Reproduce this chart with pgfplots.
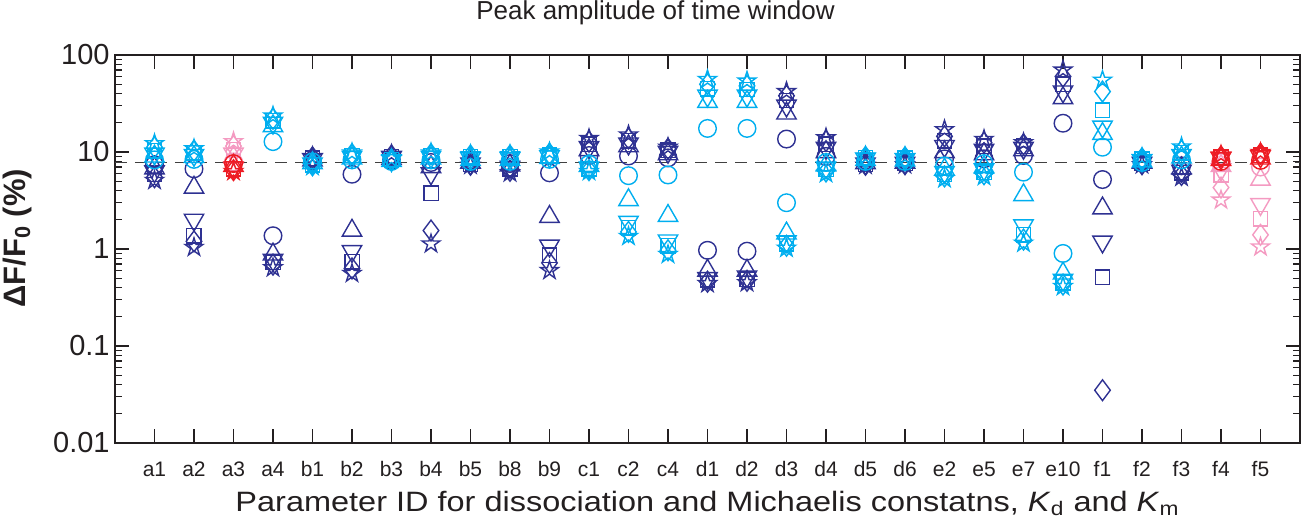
\documentclass[border=0pt]{standalone}
\usepackage{fontspec}
\setmainfont{Liberation Sans}
\newfontfamily\widefont[FakeStretch=1.16]{Liberation Sans}
\usepackage{pgfplots}
\usepackage{pgfplotstable}
\pgfplotsset{compat=1.18}
\definecolor{dkb}{RGB}{46,49,146}
\definecolor{ltb}{RGB}{0,174,239}
\definecolor{rdd}{RGB}{237,28,36}
\definecolor{pnk}{RGB}{244,154,193}
\definecolor{txt}{RGB}{35,31,32}

\pgfdeclareplotmark{pentagram}{%
  \pgfpathmoveto{\pgfpointpolar{90}{\pgfplotmarksize}}%
  \pgfpathlineto{\pgfpointpolar{126}{0.382\pgfplotmarksize}}%
  \pgfpathlineto{\pgfpointpolar{162}{\pgfplotmarksize}}%
  \pgfpathlineto{\pgfpointpolar{198}{0.382\pgfplotmarksize}}%
  \pgfpathlineto{\pgfpointpolar{234}{\pgfplotmarksize}}%
  \pgfpathlineto{\pgfpointpolar{270}{0.382\pgfplotmarksize}}%
  \pgfpathlineto{\pgfpointpolar{306}{\pgfplotmarksize}}%
  \pgfpathlineto{\pgfpointpolar{342}{0.382\pgfplotmarksize}}%
  \pgfpathlineto{\pgfpointpolar{18}{\pgfplotmarksize}}%
  \pgfpathlineto{\pgfpointpolar{54}{0.382\pgfplotmarksize}}%
  \pgfpathclose
  \pgfusepathqstroke
}

% columns: x, circle, triangle, triangle down, square, diamond, pentagram
\pgfplotstableread{
x  c     t     v     s     d     p
0  7.4   6.8   6.3   5.9   5.5   5.1
1  6.7   4.3   2.0   1.37  1.2   1.04
3  1.37  0.88  0.77  0.73  0.69  0.64
4  8.0   8.2   8.4   8.6   8.8   9.0
5  5.9   1.55  0.95  0.74  0.63  0.56
6  8.2   8.5   8.8   9.0   9.2   9.5
7  7.8   7.0   6.0   3.75  1.55  1.13
8  7.9   7.8   7.6   7.5   7.4   7.3
9  7.6   7.3   7.0   6.7   6.4   6.1
10 6.1   2.15  1.08  0.86  0.72  0.6
11 9.2   10.5  11.2  12.0  12.8  13.8
12 9.1   11.5  12.2  13.0  13.8  15.0
13 8.7   9.5   10.0  10.4  10.8  11.2
14 0.97  0.6   0.5   0.48  0.46  0.44
15 0.95  0.6   0.52  0.49  0.47  0.45
16 13.6  25    30    34    38    42
17 9.0   10    11    12    13    14
18 7.9   7.7   7.6   7.5   7.4   7.3
19 7.9   7.8   7.7   7.6   7.5   7.4
20 8.5   10    11.5  13    14.5  17
21 8.5   9.5   10.5  11.5  12.5  13.5
22 9.2   10.5  11    11.5  12    12.5
23 19.8  36    42    50    60    70
24 5.2   2.63  1.19  0.51  0.035 nan
25 7.9   7.8   7.7   7.6   7.5   7.4
26 7.2   6.8   6.4   6.1   5.8   5.5
}\tabD

\pgfplotstableread{
x  c     t     v     s     d     p
0  8.3   9.0   9.6   10.3  11.2  12.2
1  8.4   8.9   9.3   9.8   10.3  10.8
3  12.8  18.5  20    21    22    23.5
4  7.9   7.7   7.6   7.4   7.3   7.1
5  8.3   8.6   8.9   9.2   9.5   9.8
6  8.0   8.1   8.2   8.3   8.4   8.5
7  8.3   8.6   8.9   9.2   9.5   9.8
8  8.0   8.3   8.6   8.9   9.2   9.4
9  8.0   8.3   8.6   8.9   9.2   9.4
10 8.4   8.7   9.0   9.3   9.6   10.0
11 7.5   7.2   6.9   6.7   6.5   6.3
12 5.7   3.2   1.9   1.65  1.5   1.35
13 5.8   2.2   1.22  1.08  0.97  0.88
14 17.5  33    38    45    50    56
15 17.5  33    38    44    48    54
16 3.0   1.45  1.2   1.13  1.08  1.02
17 7.8   7.3   6.9   6.6   6.3   6.0
18 8.0   8.3   8.5   8.7   8.9   9.1
19 8.0   8.2   8.4   8.6   8.8   9.0
20 7.2   6.6   6.2   5.9   5.6   5.3
21 7.6   7.0   6.6   6.2   5.9   5.6
22 6.2   3.6   1.75  1.4   1.25  1.15
23 0.9   0.56  0.48  0.45  0.43  0.41
24 11.2  15.4  18.2  27    42    55
25 7.8   8.0   8.2   8.4   8.6   8.8
26 8.3   8.8   9.3   9.8   10.3  11.3
}\tabL

\pgfplotstableread{
x  c     t     v     s     d     p
2  7.9   8.8   9.6   10.5  11.5  12.8
27 7.8   7.2   6.6   5.8   4.3   3.2
28 7.0   5.2   2.9   2.05  1.4   1.05
}\tabP

\pgfplotstableread{
x  c     t     v     s     d     p
2  7.6   7.2   6.9   6.7   6.5   6.3
27 8.0   8.3   8.6   8.8   9.0   9.3
28 8.2   8.6   9.0   9.3   9.6   9.9
}\tabR

\pgfplotsset{mk/.style={only marks, line width=0.7pt}}

\newcommand{\markset}[2]{%
\addplot[mk,color=#2,mark=o,mark size=4.4pt] table[x=x,y=c]{#1};
\addplot[mk,color=#2,mark=triangle,mark size=5.6pt] table[x=x,y=t]{#1};
\addplot[mk,color=#2,mark=triangle,mark size=5.6pt,mark options={rotate=180}] table[x=x,y=v]{#1};
\addplot[mk,color=#2,mark=square,mark size=3.6pt] table[x=x,y=s]{#1};
\addplot[mk,color=#2,mark=diamond,mark size=5.2pt] table[x=x,y=d]{#1};
\addplot[mk,color=#2,mark=pentagram,mark size=4.7pt] table[x=x,y=p]{#1};
}

\begin{document}
\begin{tikzpicture}
\begin{axis}[
  scale only axis,
  width=592.5pt, height=194pt,
  xmin=-1, xmax=29,
  ymode=log, ymin=0.01, ymax=100,
  xtick={0,...,28},
  xticklabels={a1,a2,a3,a4,b1,b2,b3,b4,b5,b8,b9,c1,c2,c4,d1,d2,d3,d4,d5,d6,e2,e5,e7,e10,f1,f2,f3,f4,f5},
  ytick={0.01,0.1,1,10,100},
  yticklabels={0.01,0.1,1,10,100},
  minor ytick={0.02,0.03,0.04,0.05,0.06,0.07,0.08,0.09,0.2,0.3,0.4,0.5,0.6,0.7,0.8,0.9,2,3,4,5,6,7,8,9,20,30,40,50,60,70,80,90},
  tick align=inside,
  major tick length=7pt,
  minor tick length=3.5pt,
  tick style={color=txt, line width=0.6pt},
  axis line style={color=txt, line width=1pt},
  xticklabel style={font=\fontsize{10.5}{12}\selectfont, color=txt, anchor=base, yshift=-16.8pt},
  yticklabel style={font=\fontsize{14.5}{17}\selectfont, color=txt, anchor=east, inner sep=0pt, xshift=-2.5pt},
  title={Peak amplitude of time window},
  title style={font=\fontsize{13}{15}\selectfont, color=txt, at={(axis description cs:0.5,1)}, anchor=base, yshift=12pt, xshift=-26pt},
  xlabel={Parameter ID for dissociation and Michaelis constatns, \textit{K}\textsubscript{d} and \textit{K}\textsubscript{m}},
  xlabel style={font=\widefont\fontsize{14}{17}\selectfont, color=txt, at={(axis description cs:0.5,0)}, anchor=base, yshift=-34.3pt},
  ylabel={\textbf{ΔF/F\textsubscript{0} (\%)}},
  ylabel style={font=\fontsize{15.5}{18}\selectfont, color=txt, at={(axis description cs:0,0.528)}, anchor=center, yshift=49pt},
]
\addplot[color=black!75, line width=0.75pt, dash pattern=on 6pt off 4pt] coordinates {(-1,7.8) (29,7.8)};
\markset{\tabD}{dkb}
\markset{\tabL}{ltb}
\markset{\tabP}{pnk}
\markset{\tabR}{rdd}
\end{axis}
\pgfresetboundingbox
\useasboundingbox ([shift={(-57.5pt,-38.5pt)}]current axis.south west) rectangle ([shift={(3.5pt,27.5pt)}]current axis.north east);
\end{tikzpicture}
\end{document}
